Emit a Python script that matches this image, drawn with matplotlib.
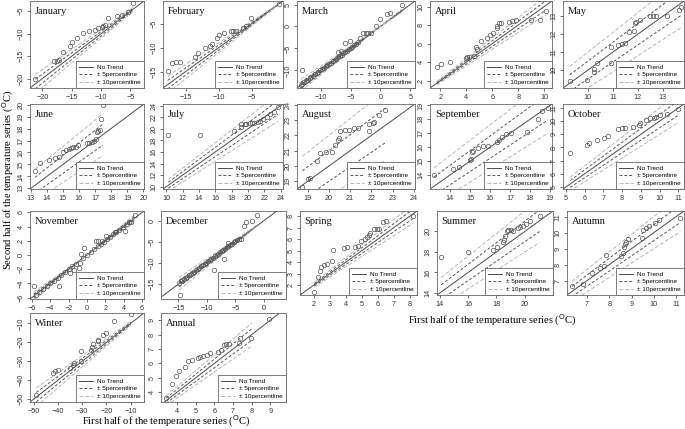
import numpy as np
import matplotlib
matplotlib.use("Agg")
import matplotlib.pyplot as plt
from matplotlib.lines import Line2D

# ---- data (first half x, second half y) ----
jan_x = [-21.2, -16.5, -18.0, -17.5, -17.1, -15.3, -14.9, -14.1, -13.0, -12.0, -11.0, -10.5, -9.9, -9.7, -9.3, -8.9, -7.3, -6.4, -5.4, -4.6]
jan_y = [-20.0, -14.1, -16.0, -16.0, -15.9, -12.7, -11.9, -11.0, -9.9, -9.4, -9.1, -8.8, -8.6, -8.3, -8.0, -6.4, -6.1, -5.8, -5.2, -3.1]

feb_x = [-17.7, -17.0, -16.4, -15.8, -13.6, -13.1, -12.0, -11.3, -11.0, -10.2, -9.9, -9.2, -8.2, -7.8, -7.4, -6.4, -5.9, -5.1, -0.9]
feb_y = [-14.9, -13.3, -13.0, -12.9, -12.0, -11.1, -10.1, -9.7, -9.3, -7.9, -7.3, -6.9, -6.6, -6.6, -6.5, -5.9, -5.5, -3.8, -1.0]

mar_x = [-13.2, -13.4, -13.1, -12.8, -12.5, -12.2, -11.9, -11.6, -11.3, -11.0, -10.7, -10.4, -10.1, -9.8, -9.5,
         -9.2, -8.9, -8.6, -8.3, -8.0, -7.7, -7.4, -7.1, -6.8, -6.5, -6.2, -5.9, -5.6, -5.3, -5.0, -4.7, -4.4,
         -4.1, -3.8, -7.1, -6.6, -5.9, -5.1, -3.4, -2.9, -2.4, -2.1, -1.5, -0.8, 0.0, 1.1, 1.6, 3.6]
mar_y = [-10.0, -13.3, -13.0, -12.7, -12.4, -12.1, -11.8, -11.5, -11.2, -10.9, -10.6, -10.3, -10.0, -9.7, -9.4,
         -9.1, -8.8, -8.5, -8.2, -7.9, -7.6, -7.3, -7.0, -6.7, -6.4, -6.1, -5.8, -5.5, -5.2, -4.9, -4.6, -4.3,
         -4.0, -3.6, -5.7, -5.5, -3.8, -3.2, -2.6, -1.4, -1.4, -1.4, -1.4, 0.1, 1.7, 2.8, 3.1, 5.0]

apr_x = [1.72, 2.05, 2.72, 3.95, 4.08, 4.2, 4.56, 4.77, 4.8, 5.1, 5.6, 5.8, 6.05, 6.4, 6.4, 6.5, 6.7, 7.25, 7.55, 7.8, 9.0, 9.7, 10.1]
apr_y = [3.5, 3.74, 4.0, 4.4, 4.5, 4.6, 4.7, 5.6, 5.4, 6.3, 6.6, 6.9, 7.1, 7.7, 7.9, 8.2, 8.2, 8.3, 8.4, 8.5, 8.5, 8.6, 9.5]

may_x = [9.27, 9.96, 10.26, 10.26, 10.36, 10.92, 10.92, 11.2, 11.35, 11.48, 11.65, 11.84, 11.87, 11.94, 12.1, 12.47, 12.6, 12.73, 13.16, 13.66, 13.73]
may_y = [9.39, 9.44, 9.9, 10.04, 10.4, 10.4, 11.3, 11.4, 11.44, 11.5, 12.1, 12.2, 12.6, 12.67, 12.8, 13.0, 13.0, 13.0, 13.0, 13.37, 13.5]

jun_x = [13.26, 13.6, 14.15, 14.5, 14.75, 15.0, 15.2, 15.4, 15.5, 15.65, 15.8, 15.97, 16.5, 16.6, 16.8, 16.95, 17.05, 17.15, 17.2, 17.3, 17.4, 17.5]
jun_y = [14.42, 15.1, 15.4, 15.5, 15.6, 16.0, 16.2, 16.25, 16.35, 16.45, 16.5, 16.6, 16.8, 16.8, 16.9, 17.0, 17.1, 17.7, 17.8, 17.9, 18.8, 20.0]

jul_x = [10.25, 14.1, 18.3, 19.1, 19.2, 19.6, 19.8, 20.2, 20.5, 20.8, 21.2, 21.5, 21.9, 22.3, 22.75, 23.2, 23.7]
jul_y = [18.9, 19.0, 19.6, 20.4, 20.8, 20.9, 20.9, 21.0, 21.0, 21.1, 21.2, 21.3, 21.7, 22.1, 22.6, 22.9, 23.7]

aug_x = [18.75, 19.0, 19.11, 19.46, 19.6, 19.86, 20.15, 20.27, 20.43, 20.46, 20.51, 20.78, 20.94, 21.18, 21.37, 21.87, 21.9, 22.06, 22.14, 22.34, 22.66]
aug_y = [18.63, 19.18, 19.24, 20.34, 20.82, 20.93, 20.93, 21.37, 21.7, 21.8, 22.29, 22.38, 22.38, 22.46, 22.46, 22.29, 22.75, 22.84, 22.9, 23.34, 23.63]

sep_x = [13.2, 14.14, 14.47, 14.98, 15.06, 15.12, 15.15, 15.4, 15.66, 15.9, 16.34, 16.45, 16.6, 16.8, 17.03, 17.86, 18.42, 18.6, 18.9]
sep_y = [14.0, 14.43, 14.55, 15.08, 15.15, 15.63, 15.75, 15.95, 16.07, 16.1, 16.4, 16.5, 16.7, 16.96, 17.0, 17.08, 18.04, 18.57, 18.8]

oct_x = [5.23, 6.14, 6.24, 6.66, 7.04, 7.27, 7.8, 7.99, 8.18, 8.56, 8.89, 8.98, 9.3, 9.5, 9.7, 9.8, 10.0, 10.37, 10.98]
oct_y = [7.61, 8.2, 8.33, 8.6, 8.7, 8.9, 9.38, 9.45, 9.5, 9.58, 9.7, 9.85, 10.1, 10.2, 10.2, 10.3, 10.5, 10.55, 10.95]

nov_x = [-5.8, -3.0, -1.9, -1.4, -0.9, -0.8, -0.7, -0.36, 0.96, 1.25, 1.6, 2.1, 3.0, 4.1, 4.8, 5.2,
         -5.6, -5.2, -4.8, -4.4, -4.0, -3.6, -3.2, -2.8, -2.4, -2.0, -1.6, -1.2, -0.4, 0.0, 0.4, 0.8,
         1.2, 1.5, 1.8, 2.2, 2.5, 2.8, 3.2, 3.5, 3.9, 4.3, 4.6]
nov_y = [-4.4, -4.3, -2.5, -2.1, -1.9, -1.1, 0.2, 1.05, 2.0, 2.0, 2.0, 2.7, 3.2, 3.4, 4.6, 5.6,
         -5.6, -5.2, -4.8, -4.4, -4.0, -3.6, -3.2, -2.8, -2.4, -2.0, -1.6, -1.2, -0.4, 0.0, 0.4, 0.8,
         1.3, 1.6, 1.9, 2.3, 2.6, 2.9, 3.2, 3.5, 3.9, 4.3, 4.7]

dec_x = [-14.7, -14.9, -14.6, -14.3, -14.0, -13.7, -13.4, -13.1, -12.8, -12.5, -12.2, -11.9, -11.6, -11.3,
         -11.0, -10.7, -10.4, -10.1, -9.8, -9.5, -9.2, -8.9, -8.6, -8.3, -8.0, -7.7, -7.4, -7.1, -6.8, -6.5,
         -6.2, -5.9, -5.6, -5.3, -5.0, -4.7, -4.4, -8.8, -7.0, -6.3, -4.0, -3.5, -3.2, -2.05, -1.2]
dec_y = [-17.5, -14.6, -14.3, -14.0, -13.7, -13.5, -13.2, -12.9, -12.6, -12.3, -12.0, -11.7, -11.4, -11.1,
         -10.8, -10.5, -10.2, -9.9, -9.6, -9.3, -9.0, -8.7, -8.4, -8.1, -7.8, -7.5, -7.2, -6.9, -6.6, -6.3,
         -6.0, -5.7, -5.4, -5.1, -4.8, -4.5, -4.2, -11.6, -9.0, -5.2, -4.4, -1.2, -0.2, 0.0, 1.3]

spr_x = [2.04, 2.25, 2.37, 2.46, 2.62, 2.83, 3.15, 3.19, 3.88, 4.08, 4.6, 4.75, 4.98, 5.23, 5.33, 5.44, 5.54, 5.75, 5.96, 6.06, 6.33, 6.54, 8.2]
spr_y = [1.42, 2.75, 3.25, 3.55, 3.75, 3.83, 4.07, 5.03, 5.25, 5.3, 5.3, 5.45, 5.87, 6.0, 6.2, 6.4, 6.57, 6.85, 6.9, 6.9, 7.5, 7.55, 8.0]

sum_x = [14.1, 16.0, 17.74, 18.05, 18.5, 18.56, 18.62, 18.75, 18.85, 19.0, 19.2, 19.55, 19.7, 19.9, 20.1, 20.35, 21.05]
sum_y = [17.5, 18.0, 18.15, 18.52, 18.98, 19.2, 19.55, 20.0, 20.15, 20.1, 20.0, 20.3, 20.4, 20.5, 20.7, 21.0, 21.5]

aut_x = [6.32, 6.82, 7.24, 7.58, 7.76, 7.87, 8.55, 8.62, 8.65, 8.7, 8.75, 8.85, 9.45, 9.53, 9.65, 9.8, 10.05, 10.25, 11.2]
aut_y = [6.64, 6.8, 7.45, 7.8, 7.9, 8.6, 8.55, 8.7, 9.1, 9.3, 9.4, 9.6, 9.7, 10.2, 10.3, 10.45, 10.6, 10.8, 10.95]

win_x = [-48.9, -41.9, -41.0, -39.9, -35.2, -33.9, -33.2, -30.5, -30.3, -26.5, -26.0, -25.6, -23.6, -23.3, -21.3, -20.2, -16.7, -9.9]
win_y = [-47.6, -36.1, -35.2, -34.6, -33.7, -31.9, -31.0, -29.8, -24.8, -24.1, -22.6, -20.7, -19.4, -18.5, -16.1, -14.8, -8.7, -5.0]

ann_x = [3.41, 3.73, 3.95, 4.11, 4.43, 4.61, 4.82, 5.14, 5.25, 5.38, 5.61, 5.75, 6.21, 6.36, 6.5, 6.64, 6.8, 7.34, 7.38, 7.96, 8.95]
ann_y = [3.59, 4.57, 5.14, 5.5, 5.73, 6.14, 6.23, 6.36, 6.45, 6.5, 6.59, 6.73, 6.82, 6.91, 7.27, 7.36, 7.34, 7.41, 7.73, 7.75, 9.05]

titles = ["January", "February", "March", "April", "May", "June", "July", "August", "September",
          "October", "November", "December", "Spring", "Summer", "Autumn", "Winter", "Annual"]

xlims = [(-22.1, -2.7), (-18.4, -0.3), (-14.0, 5.8), (1.2, 10.6), (9.0, 13.85), (12.95, 20.05),
         (9.6, 24.3), (18.5, 24.05), (13.0, 19.1), (4.85, 11.3), (-6.2, 6.2), (-18.05, 3.9),
         (1.15, 8.45), (13.8, 22.0), (6.1, 11.36), (-51.5, -4.5), (3.14, 9.84)]
ylims = [(-22.1, -2.7), (-18.4, -0.3), (-14.0, 5.8), (1.2, 10.6), (9.0, 13.85), (12.95, 20.05),
         (9.6, 24.3), (18.5, 24.05), (13.0, 19.1), (4.85, 11.3), (-6.2, 6.2), (-18.5, 2.3),
         (1.15, 8.45), (13.8, 22.0), (6.1, 11.36), (-51.5, -4.5), (3.32, 9.5)]

# x end of the percent lines where it differs from the data maximum
band_end = [None] * 16 + [8.0]

ticks = [[-20, -15, -10, -5], [-15, -10, -5], [-10, -5, 0, 5], [2, 4, 6, 8, 10], [10, 11, 12, 13],
         list(range(13, 21)), list(range(10, 25, 2)), list(range(19, 25)), list(range(14, 20)),
         list(range(5, 12)), list(range(-6, 7, 2)), [-15, -10, -5, 0], list(range(2, 9)),
         [14, 16, 18, 20], list(range(7, 12)), [-50, -40, -30, -20, -10], list(range(4, 10))]

series = [(jan_x, jan_y), (feb_x, feb_y), (mar_x, mar_y), (apr_x, apr_y), (may_x, may_y),
          (jun_x, jun_y), (jul_x, jul_y), (aug_x, aug_y), (sep_x, sep_y), (oct_x, oct_y),
          (nov_x, nov_y), (dec_x, dec_y), (spr_x, spr_y), (sum_x, sum_y), (aut_x, aut_y),
          (win_x, win_y), (ann_x, ann_y)]

# panel boxes in pixels: left, right, top, bottom
W, H = 685, 429
boxes = [(30, 144, 1, 88), (163, 283, 1, 88), (297, 415, 1, 88), (430, 552, 1, 88), (563, 684, 1, 88),
         (30, 144, 104, 189), (163, 283, 104, 189), (297, 415, 104, 189), (430, 552, 104, 189), (563, 684, 104, 189),
         (30, 144, 211, 299), (161, 286, 211, 299),
         (300, 417, 211, 295), (437, 553, 211, 295), (567, 684, 211, 295),
         (30, 144, 313, 402), (161, 286, 313, 402)]

SERIF = "Liberation Serif"
SANS = "Liberation Sans"
C_SOLID = "#4a4a4a"
C_DASH = "#555555"
C_LIGHT = "#b5b5b5"

fig = plt.figure(figsize=(W / 100, H / 100), dpi=100)


def draw_panel(ax, title, x, y, xl, yl, tk, xend):
    x = np.asarray(x, float)
    y = np.asarray(y, float)
    ax.axline((xl[0], xl[0]), slope=1, color=C_SOLID, lw=0.7, zorder=2)
    xs = np.array([x.min(), x.max() if xend is None else xend])
    for p, col, ds in [(0.05, C_DASH, (3, 2)), (0.10, C_LIGHT, (4, 2))]:
        for sgn in (1, -1):
            ax.plot(xs, xs * (1 + sgn * p), color=col, lw=0.7, dashes=ds, zorder=2)
    ax.plot(x, y, 'o', ms=3.2, mfc='none', mec='#555555', mew=0.5, zorder=3)
    ax.set_xlim(xl)
    ax.set_ylim(yl)
    ax.set_xticks(tk)
    ax.set_yticks(tk)
    ax.tick_params(length=2, width=0.5, pad=2, labelsize=5.2, colors='#333333')
    for lab in ax.get_xticklabels() + ax.get_yticklabels():
        lab.set_family(SANS)
    for lab in ax.get_yticklabels():
        lab.set_rotation(90)
        lab.set_va('center')
    for s in ax.spines.values():
        s.set_linewidth(0.6)
        s.set_color('#666666')
    ax.text(0.04, 0.93, title, transform=ax.transAxes, family=SERIF, fontsize=7.5,
            va='top', ha='left', color='#111111')
    handles = [Line2D([], [], color=C_SOLID, lw=0.7),
               Line2D([], [], color=C_DASH, lw=0.7, dashes=(3, 2)),
               Line2D([], [], color=C_LIGHT, lw=0.7, dashes=(4, 2))]
    leg = ax.legend(handles, ["No Trend", "\u00b1 5percentline", "\u00b1 10percentline"],
                    loc='lower right', fancybox=False, framealpha=1,
                    prop={'family': SANS, 'size': 4.6}, handlelength=2.1, handletextpad=0.7,
                    labelspacing=0.32, borderpad=0.5, borderaxespad=0)
    leg.get_frame().set_edgecolor('#666666')
    leg.get_frame().set_linewidth(0.6)


for title, (x, y), xl, yl, tk, xend, (l, r, t, b) in zip(titles, series, xlims, ylims, ticks, band_end, boxes):
    ax = fig.add_axes([l / W, 1 - b / H, (r - l) / W, (b - t) / H])
    draw_panel(ax, title, x, y, xl, yl, tk, xend)

xlab = "First half of the temperature series ($^{\\mathrm{O}}$C)"
fig.text(166 / W, 1 - 421 / H, xlab, family=SERIF, fontsize=7.6, ha='center', va='center')
fig.text(492 / W, 1 - 320 / H, xlab, family=SERIF, fontsize=7.6, ha='center', va='center')
fig.text(8 / W, 1 - 180 / H, "Second half of the temperature series ($^{\\mathrm{O}}$C)",
         family=SERIF, fontsize=7.6, ha='center', va='center', rotation=90)

fig.savefig("out.png", dpi=100)
